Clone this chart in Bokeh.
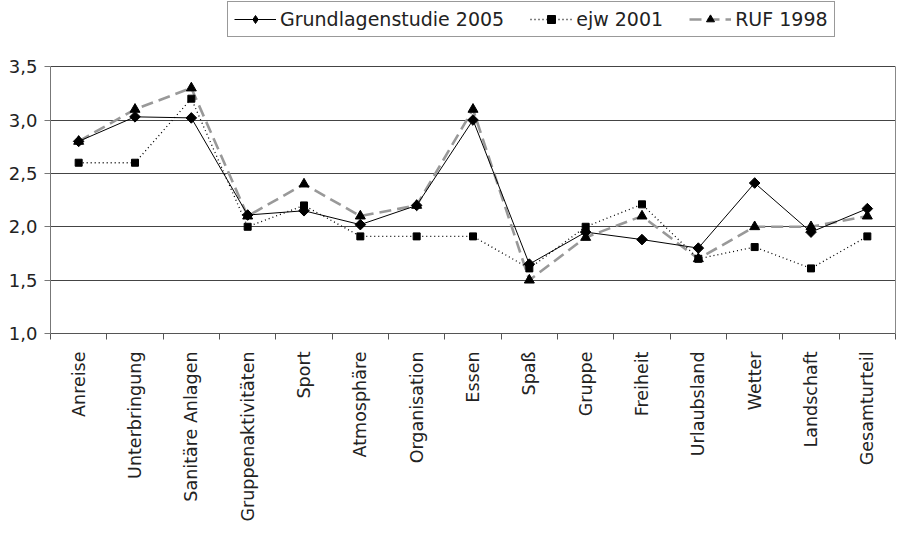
import math
from bokeh.plotting import figure
from bokeh.models import (Range1d, FixedTicker, CustomJSTickFormatter, Legend, LegendItem, LinearAxis)
from bokeh.embed import file_html
from bokeh.resources import INLINE

categories = ["Anreise", "Unterbringung", "Sanitäre Anlagen", "Gruppenaktivitäten",
              "Sport", "Atmosphäre", "Organisation", "Essen", "Spaß", "Gruppe",
              "Freiheit", "Urlaubsland", "Wetter", "Landschaft", "Gesamturteil"]
grundlagen_2005 = [2.80, 3.03, 3.02, 2.11, 2.15, 2.02, 2.20, 3.00, 1.65, 1.95, 1.88, 1.80, 2.41, 1.95, 2.17]
ejw_2001 = [2.60, 2.60, 3.20, 2.00, 2.20, 1.91, 1.91, 1.91, 1.61, 2.00, 2.21, 1.70, 1.81, 1.61, 1.91]
ruf_1998 = [2.80, 3.10, 3.30, 2.10, 2.40, 2.10, 2.20, 3.10, 1.50, 1.90, 2.10, 1.70, 2.00, 2.00, 2.10]
y_ticks = [1.0, 1.5, 2.0, 2.5, 3.0, 3.5]
series_names = ["Grundlagenstudie 2005", "ejw 2001", "RUF 1998"]

FONT = "DejaVu Sans"
xs = [i + 0.5 for i in range(len(categories))]

# frame extends above 3.5 to host the legend
p = figure(width=896, height=524, output_backend="svg", toolbar_location=None,
           x_range=Range1d(0, len(categories)), y_range=Range1d(1.0, 4.12))
p.min_border_left = 50
p.min_border_right = 1
p.min_border_top = 0
p.min_border_bottom = 188
p.background_fill_color = "white"
p.border_fill_color = "white"
p.outline_line_color = None

# y axis
p.yaxis.ticker = FixedTicker(ticks=y_ticks)
p.yaxis.bounds = (1.0, 3.5)
p.yaxis.formatter = CustomJSTickFormatter(code="return tick.toFixed(1).replace('.', ',');")
p.yaxis.axis_line_color = "#777777"
p.yaxis.major_tick_line_color = "#777777"
p.yaxis.major_tick_out = 6
p.yaxis.major_tick_in = 0
p.yaxis.minor_tick_line_color = None
p.yaxis.major_label_text_font = FONT
p.yaxis.major_label_text_font_size = "18px"
p.yaxis.major_label_text_color = "#222222"
p.yaxis.major_label_standoff = 7

# right border line of the plot area
right_axis = LinearAxis(bounds=(1.0, 3.5), ticker=FixedTicker(ticks=[]),
                        axis_line_color="#888888", major_tick_line_color=None,
                        minor_tick_line_color=None, major_label_text_font_size="0px")
p.add_layout(right_axis, "right")

# x axis: labels at category centres, tick marks between categories
p.xaxis.ticker = FixedTicker(ticks=xs, minor_ticks=list(range(len(categories) + 1)))
p.xaxis.major_label_overrides = {x: c for x, c in zip(xs, categories)}
p.xaxis.major_label_orientation = math.pi / 2
p.xaxis.major_tick_line_color = None
p.xaxis.major_tick_out = 0
p.xaxis.minor_tick_line_color = "#555555"
p.xaxis.minor_tick_out = 6
p.xaxis.minor_tick_in = 0
p.xaxis.axis_line_color = "#555555"
p.xaxis.major_label_text_font = FONT
p.xaxis.major_label_text_font_size = "17.5px"
p.xaxis.major_label_text_color = "#222222"
p.xaxis.major_label_standoff = 12

p.xgrid.grid_line_color = None
p.ygrid.ticker = FixedTicker(ticks=y_ticks)
p.ygrid.grid_line_color = "#444444"
p.ygrid.grid_line_width = 1.2

# series (back to front)
r3l = p.line(xs, ruf_1998, line_color="#999999", line_width=2.6, line_dash="12 6")
r3m = p.scatter(xs, ruf_1998, marker="triangle", size=10, fill_color="black", line_color="black")
r2l = p.line(xs, ejw_2001, line_color="black", line_width=1.3, line_dash="1 3")
r2m = p.scatter(xs, ejw_2001, marker="square", size=7, fill_color="black", line_color="black")
r1l = p.line(xs, grundlagen_2005, line_color="black", line_width=1)
r1m = p.scatter(xs, grundlagen_2005, marker="square", angle=math.pi / 4, size=7.5,
                fill_color="black", line_color="black")
# legend-only diamond glyph (hidden in the plot)
r1k = p.scatter(xs, grundlagen_2005, marker="diamond", size=12,
                fill_color="black", line_color="black", visible=False)

legend = Legend(items=[
    LegendItem(label=series_names[0], renderers=[r1l, r1k]),
    LegendItem(label=series_names[1], renderers=[r2l, r2m]),
    LegendItem(label=series_names[2], renderers=[r3l, r3m]),
], orientation="horizontal", location=(177, 296))
legend.label_text_font = FONT
legend.label_text_font_size = "19px"
legend.label_text_color = "#222222"
legend.glyph_width = 42
legend.glyph_height = 20
legend.label_standoff = 4
legend.spacing = 26
legend.padding = 6
legend.margin = 0
legend.border_line_color = "#333333"
legend.border_line_width = 1
legend.background_fill_color = "white"
legend.background_fill_alpha = 1
p.add_layout(legend, "center")

open("out.html", "w").write(file_html(p, INLINE))
